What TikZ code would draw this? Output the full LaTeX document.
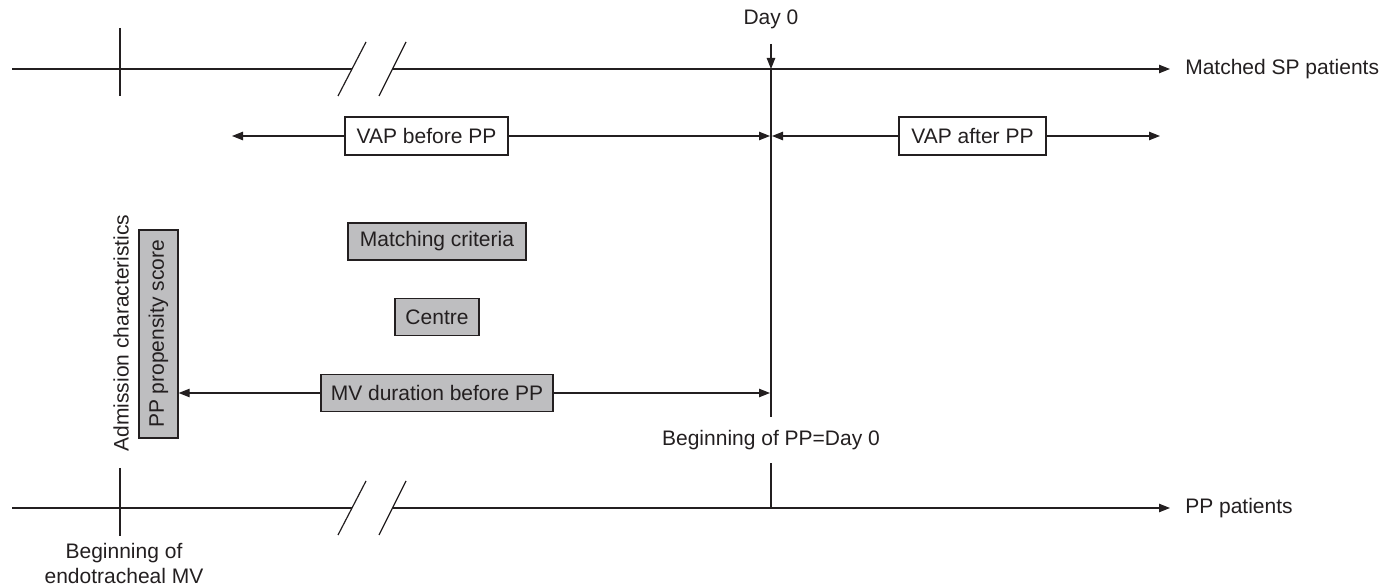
\documentclass[tikz,border=0pt]{standalone}
\usepackage{fontspec}
\setmainfont{Liberation Sans}
\usetikzlibrary{arrows.meta}

\definecolor{inkgray}{RGB}{35,31,32}
\definecolor{boxgray}{RGB}{190,190,192}

\begin{document}
\begin{tikzpicture}[x=0.5pt, y=-0.5pt, line width=0.6pt, color=inkgray,
    font=\fontsize{10.5}{12.5}\selectfont,
    tip/.style={-{Triangle[length=5.5pt, width=4.2pt]}},
    whitebox/.style={draw, fill=white, minimum height=19pt, inner xsep=0pt},
    graybox/.style={draw, fill=boxgray, minimum height=18.5pt, inner xsep=0pt}]
  \useasboundingbox (0, 0) rectangle (1383, 588);

  % Upper time line: matched SP patients.
  \coordinate (topstart) at (12, 69);
  \coordinate (topcutA) at (352, 69);
  \coordinate (topcutB) at (392.5, 69);
  \node [anchor=west] (sp) at (1178, 69) {Matched SP patients};
  \draw (topstart) -- (topcutA);
  \draw [tip, shorten >=4pt] (topcutB) -- (sp);
  \draw (120, 28) -- (120, 96);
  \draw (338, 96) -- (366, 42);
  \draw (379, 96) -- (406, 42);

  % Lower time line: PP patients.
  \coordinate (botstart) at (12, 508);
  \coordinate (botcutA) at (352, 508);
  \coordinate (botcutB) at (392.5, 508);
  \node [anchor=west] (pp) at (1178, 508) {PP patients};
  \draw (botstart) -- (botcutA);
  \draw [tip, shorten >=4pt] (botcutB) -- (pp);
  \draw (120, 468) -- (120, 536);
  \draw (338, 535) -- (366, 481);
  \draw (379, 535) -- (406, 481);
  \node [align=center] (mvstart) at (124, 563) {Beginning of\\endotracheal MV};

  % Day 0 marker.
  \node (day0) at (771, 19) {Day 0};
  \coordinate (daytop) at (771, 69);
  \coordinate (daymid) at (771, 136);
  \coordinate (daybot) at (771, 508);
  \node (ppstart) at (771, 440) {Beginning of PP=Day 0};
  \draw [tip, shorten <=4pt] (day0) -- (daytop);
  \draw [shorten >=3pt] (daytop) -- (ppstart);
  \draw [shorten <=3pt] (ppstart) -- (daybot);

  % VAP before and after PP.
  \node [whitebox, minimum width=81.5pt] (vapbefore) at (426.5, 136) {VAP before PP};
  \node [whitebox, minimum width=73.5pt] (vapafter) at (972.5, 136) {VAP after PP};
  \draw [tip] (vapbefore) -- (232, 136);
  \draw [tip, shorten >=0.5pt] (vapbefore) -- (daymid);
  \draw [tip, shorten >=0.5pt] (vapafter) -- (daymid);
  \draw [tip] (vapafter) -- (1160, 136);

  % Matching criteria.
  \node [graybox, minimum width=89pt] (criteria) at (437, 241.5) {Matching criteria};
  \node [graybox, minimum width=42pt] (centre) at (437, 317) {Centre};
  \node [graybox, minimum width=116pt] (mvdur) at (437, 393) {MV duration before PP};
  \node [graybox, rotate=90, minimum width=104pt, minimum height=19.5pt] (score)
    at (158.5, 334) {PP propensity score};
  \node [rotate=90] (admission) at (121, 333) {Admission characteristics};
  \draw [tip] (mvdur) -- (mvdur -| score.south);
  \draw [tip, shorten >=0.5pt] (mvdur) -- (mvdur -| daytop);
\end{tikzpicture}
\end{document}
